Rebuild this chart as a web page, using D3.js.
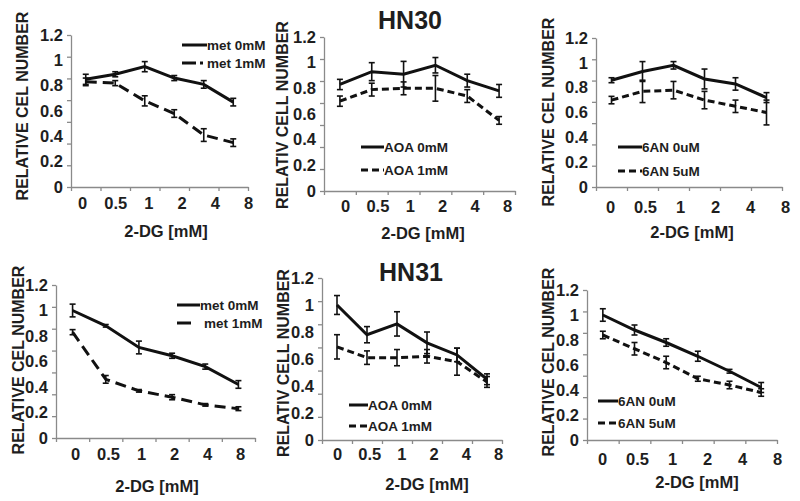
<!DOCTYPE html>
<html><head><meta charset="utf-8">
<script src="https://cdn.jsdelivr.net/npm/d3@7"></script>
<style>
body{margin:0;background:#fff;}
svg text{font-family:"Liberation Sans",Arial,sans-serif;font-weight:bold;fill:#1e1e1e;}
</style></head>
<body><svg id="c" width="800" height="501"></svg>
<script>
// ---- data ----
const categories = ["c0","c1","c2","c3","c4","c5"];
const xLabels = ["0","0.5","1","2","4","8"];
const yTicks = [0,0.2,0.4,0.6,0.8,1,1.2];

const hn30_met0 = [0.85,0.89,0.95,0.86,0.81,0.67];
const hn30_met0_err = [0.04,0.02,0.04,0.02,0.03,0.03];
const hn30_met1 = [0.83,0.82,0.68,0.58,0.41,0.35];
const hn30_met1_err = [0.03,0.02,0.04,0.03,0.05,0.03];

const hn30_aoa0 = [0.83,0.93,0.91,0.98,0.86,0.78];
const hn30_aoa0_err = [0.04,0.07,0.10,0.06,0.05,0.05];
const hn30_aoa1 = [0.70,0.79,0.80,0.80,0.74,0.55];
const hn30_aoa1_err = [0.04,0.05,0.05,0.10,0.05,0.03];

const hn30_6an0 = [0.86,0.93,0.98,0.87,0.83,0.72];
const hn30_6an0_err = [0.02,0.08,0.03,0.08,0.05,0.04];
const hn30_6an5 = [0.70,0.77,0.78,0.70,0.65,0.60];
const hn30_6an5_err = [0.03,0.09,0.07,0.07,0.05,0.10];

const hn31_met0 = [1.0,0.88,0.71,0.645,0.56,0.42];
const hn31_met0_err = [0.05,0.01,0.05,0.02,0.02,0.03];
const hn31_met1 = [0.83,0.46,0.37,0.32,0.26,0.23];
const hn31_met1_err = [0.02,0.03,0.01,0.02,0.01,0.015];

const hn31_aoa0 = [1.0,0.78,0.86,0.72,0.63,0.45];
const hn31_aoa0_err = [0.07,0.06,0.09,0.08,0.05,0.04];
const hn31_aoa1 = [0.69,0.61,0.61,0.62,0.58,0.43];
const hn31_aoa1_err = [0.09,0.05,0.06,0.05,0.10,0.04];

const hn31_6an0 = [1.0,0.88,0.78,0.67,0.55,0.42];
const hn31_6an0_err = [0.05,0.04,0.03,0.04,0.015,0.04];
const hn31_6an5 = [0.84,0.73,0.62,0.49,0.44,0.38];
const hn31_6an5_err = [0.03,0.05,0.05,0.02,0.03,0.03];

// ---- layout ----
const panels = [
 {x0:71,x1:248,yt:35,yb:187,lx0:82,lx1:248,ly:206,tx:166,ty:231,yx:22,yy:106,ytitle:"RELATIVE CEL NUMBER",
  s:[{name:"met 0mM",v:hn30_met0,e:hn30_met0_err,dash:null},{name:"met 1mM",v:hn30_met1,e:hn30_met1_err,dash:"11,6"}],
  leg:{x:182,y:[45,63],len:25,dash2:"14,4,3,4"}},
 {x0:324,x1:515,yt:37,yb:191,lx0:345,lx1:507,ly:209,tx:423,ty:233,yx:282,yy:115,ytitle:"RELATIV CELL NUMBER",
  s:[{name:"AOA 0mM",v:hn30_aoa0,e:hn30_aoa0_err,dash:null},{name:"AOA 1mM",v:hn30_aoa1,e:hn30_aoa1_err,dash:"7,4"}],
  leg:{x:361,y:[147,170],len:23,dash2:"7,4"}},
 {x0:596,x1:782,yt:38,yb:187,lx0:610,lx1:785,ly:210,tx:692,ty:232,yx:548,yy:112,ytitle:"RELATIVE CEL NUMBER",
  s:[{name:"6AN 0uM",v:hn30_6an0,e:hn30_6an0_err,dash:null},{name:"6AN 5uM",v:hn30_6an5,e:hn30_6an5_err,dash:"7,4"}],
  leg:{x:618,y:[147,171],len:24,dash2:"7,4"}},
 {x0:56,x1:255,yt:285,yb:438,lx0:75,lx1:240,ly:457,tx:157,ty:486,yx:18,yy:360,ytitle:"RELATIVE CEL NUMBER",
  s:[{name:"met 0mM",v:hn31_met0,e:hn31_met0_err,dash:null},{name:"met 1mM",v:hn31_met1,e:hn31_met1_err,dash:"11,6"}],
  leg:{x:177,y:[305,323],len:23,dash2:"14,30"}},
 {x0:322,x1:502,yt:278,yb:440,lx0:337,lx1:498,ly:457,tx:427,ty:484,yx:283,yy:363,ytitle:"RELATIV CELL NUMBER",
  s:[{name:"AOA 0mM",v:hn31_aoa0,e:hn31_aoa0_err,dash:null},{name:"AOA 1mM",v:hn31_aoa1,e:hn31_aoa1_err,dash:"7,4"}],
  leg:{x:349,y:[405,426],len:19,dash2:"7,4"}},
 {x0:587,x1:777,yt:290,yb:440,lx0:602,lx1:777,ly:462,tx:697,ty:482,yx:548,yy:362,ytitle:"RELATIVE CEL NUMBER",
  s:[{name:"6AN 0uM",v:hn31_6an0,e:hn31_6an0_err,dash:null},{name:"6AN 5uM",v:hn31_6an5,e:hn31_6an5_err,dash:"7,4"}],
  leg:{x:598,y:[401,423],len:20,dash2:"7,4"}}
];

const svg = d3.select("#c");

panels.forEach(p => {
  const g = svg.append("g");
  const x = d3.scaleBand().domain(categories).range([p.x0,p.x1]).paddingInner(0).paddingOuter(0);
  const xb = d3.scaleLinear().domain([0,categories.length]).range([p.x0,p.x1]);
  const xl = d3.scalePoint().domain(xLabels).range([p.lx0,p.lx1]);
  const y = d3.scaleLinear().domain([0,1.2]).range([p.yb,p.yt]);

  const ya = g.append("g").attr("transform",`translate(${p.x0},0)`)
    .call(d3.axisLeft(y).tickValues(d3.range(8).map(i=>i*1.2/7)).tickFormat("").tickSizeInner(4).tickSizeOuter(0));
  ya.selectAll("path,line").attr("stroke","#8a8a8a").attr("stroke-width",1.3);
  const yl = g.append("g").attr("transform",`translate(${p.x0-5},0)`)
    .call(d3.axisLeft(y).tickValues(yTicks).tickFormat(d=>d3.format("")(+d.toFixed(1))).tickSize(0));
  yl.select(".domain").remove();
  yl.selectAll("text").attr("font-size",16.5).attr("font-family",null).attr("fill","#1e1e1e");

  const xa = g.append("g").attr("transform",`translate(0,${p.yb})`)
    .call(d3.axisBottom(xb).tickValues(d3.range(categories.length+1)).tickFormat("").tickSizeInner(4).tickSizeOuter(0));
  xa.selectAll("path,line").attr("stroke","#8a8a8a").attr("stroke-width",1.3);
  const xla = g.append("g").attr("transform",`translate(0,${p.ly-9})`)
    .call(d3.axisBottom(xl).tickSize(0).tickPadding(0));
  xla.select(".domain").remove();
  xla.selectAll("text").attr("font-size",16.5).attr("font-family",null).attr("fill","#1e1e1e");

  g.append("text").attr("x",p.tx).attr("y",p.ty).attr("dy","0.35em").attr("text-anchor","middle")
    .attr("font-size",16.5).text("2-DG [mM]");
  g.append("text").attr("transform",`translate(${p.yx},${p.yy}) rotate(-90)`).attr("dy","0.35em")
    .attr("text-anchor","middle").attr("font-size",16).text(p.ytitle);

  p.s.forEach((s,si) => {
    const cx = (d,i) => x(categories[i]) + x.bandwidth()/2;
    const line = d3.line().x((d,i)=>cx(d,i)).y(d=>y(d));
    g.append("path").datum(s.v).attr("d",line).attr("fill","none").attr("stroke","#111")
      .attr("stroke-width",3).attr("stroke-dasharray",s.dash);
    const eb = g.append("g");
    s.v.forEach((v,i) => {
      const X = cx(v,i), e = s.e[i];
      eb.append("line").attr("x1",X).attr("x2",X).attr("y1",y(v-e)).attr("y2",y(v+e)).attr("stroke","#111").attr("stroke-width",1.6);
      [v-e,v+e].forEach(w => eb.append("line").attr("x1",X-3).attr("x2",X+3).attr("y1",y(w)).attr("y2",y(w)).attr("stroke","#111").attr("stroke-width",1.6));
    });
    const ly = p.leg.y[si];
    g.append("line").attr("x1",p.leg.x).attr("x2",p.leg.x+p.leg.len).attr("y1",ly).attr("y2",ly)
      .attr("stroke","#111").attr("stroke-width",3).attr("stroke-dasharray",si===0?null:p.leg.dash2);
    g.append("text").attr("x",p.leg.x+p.leg.len+(si===1 && p.leg.dash2==="14,30"?4:0)).attr("y",ly).attr("dy","0.35em")
      .attr("font-size",13.5).text(s.name);
  });
});

svg.append("text").attr("x",410).attr("y",20).attr("dy","0.35em").attr("text-anchor","middle").attr("font-size",25).text("HN30");
svg.append("text").attr("x",411).attr("y",272).attr("dy","0.35em").attr("text-anchor","middle").attr("font-size",25).text("HN31");
</script></body></html>
